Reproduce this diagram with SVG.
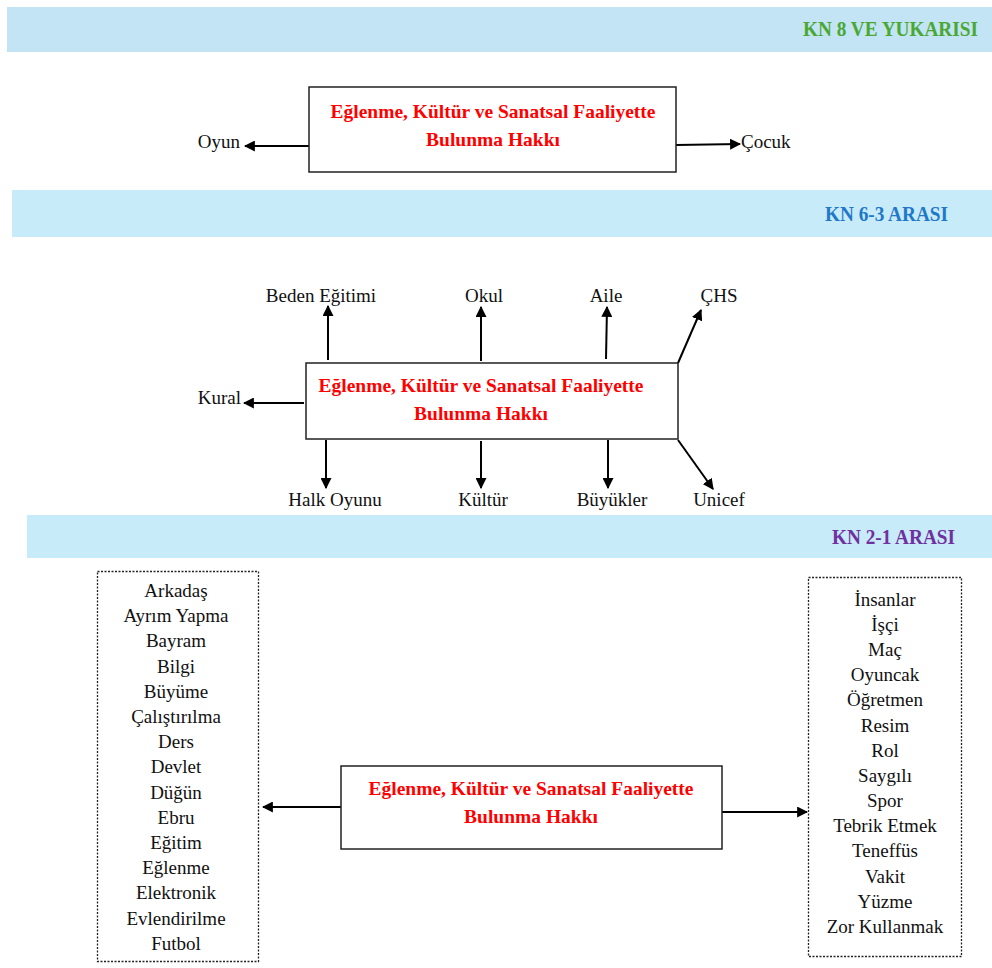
<svg xmlns="http://www.w3.org/2000/svg" width="992" height="968" viewBox="0 0 992 968">
<style>
.band{fill:#c8ebfa}
.hdr{font-family:'Liberation Serif','Times New Roman',serif;font-weight:bold;font-size:21px;text-anchor:end}
.box{fill:#fff;stroke:#222;stroke-width:1.5}
.dbox{fill:#fff;stroke:#222;stroke-width:1.3;stroke-dasharray:2 1.5}
.title{font-family:'Liberation Serif','Times New Roman',serif;font-weight:bold;font-size:19.5px;fill:#ff0000;text-anchor:middle}
.lbl{font-family:'Liberation Serif','Times New Roman',serif;font-size:19px;fill:#111}
.mid{text-anchor:middle}
.end{text-anchor:end}
.ln{stroke:#000;stroke-width:2;fill:none;marker-end:url(#ah)}
</style>
<defs>
<marker id="ah" viewBox="0 0 10 10" refX="9" refY="5" markerWidth="5.5" markerHeight="5.5" orient="auto" markerUnits="strokeWidth">
<path d="M0,0 L10,5 L0,10 Z" fill="#000"/>
</marker>
</defs>
<rect width="992" height="968" fill="#fff"/>
<g id="band1"><rect x="7" y="7" width="985" height="45" fill="#c2e4f4"/><text class="hdr" x="978" y="36" fill="#4aa832" textLength="175" lengthAdjust="spacingAndGlyphs">KN 8 VE YUKARISI</text></g>
<g id="band2"><rect class="band" x="12" y="190" width="980" height="47"/><text class="hdr" x="948" y="221" fill="#1f78c8" textLength="123" lengthAdjust="spacingAndGlyphs">KN 6-3 ARASI</text></g>
<g id="band3"><rect class="band" x="27" y="515" width="965" height="43"/><text class="hdr" x="955" y="544" fill="#7030a0" textLength="123" lengthAdjust="spacingAndGlyphs">KN 2-1 ARASI</text></g>

<g id="connectors">
<line class="ln" x1="309" y1="146" x2="245" y2="146"/>
<line class="ln" x1="676" y1="145" x2="740" y2="144"/>
<line class="ln" x1="328" y1="360" x2="328" y2="306"/>
<line class="ln" x1="481" y1="361" x2="481" y2="307"/>
<line class="ln" x1="606" y1="359" x2="607" y2="307"/>
<line class="ln" x1="678" y1="363" x2="701" y2="310"/>
<line class="ln" x1="304" y1="403" x2="244" y2="403"/>
<line class="ln" x1="326" y1="440" x2="326" y2="488"/>
<line class="ln" x1="481" y1="441" x2="481" y2="488"/>
<line class="ln" x1="608" y1="440" x2="608" y2="488"/>
<line class="ln" x1="678" y1="440" x2="713" y2="489"/>
<line class="ln" x1="341" y1="807" x2="263" y2="807"/>
<line class="ln" x1="722" y1="812" x2="807" y2="812"/>
</g>

<g id="node1">
<rect class="box" x="309" y="87" width="367" height="85"/>
<text class="title" x="493" y="118" textLength="325" lengthAdjust="spacingAndGlyphs">Eğlenme, Kültür ve Sanatsal Faaliyette</text>
<text class="title" x="493" y="146">Bulunma Hakkı</text>
</g>
<g id="n-oyun"><text class="lbl end" x="240" y="148">Oyun</text></g>
<g id="n-cocuk"><text class="lbl" x="741" y="148">Çocuk</text></g>

<g id="node2">
<rect class="box" x="306" y="363" width="372" height="76"/>
<text class="title" x="481" y="392" textLength="325" lengthAdjust="spacingAndGlyphs">Eğlenme, Kültür ve Sanatsal Faaliyette</text>
<text class="title" x="481" y="420">Bulunma Hakkı</text>
</g>
<g id="n-beden"><text class="lbl mid" x="321" y="302">Beden Eğitimi</text></g>
<g id="n-okul"><text class="lbl mid" x="484" y="302">Okul</text></g>
<g id="n-aile"><text class="lbl mid" x="606" y="302">Aile</text></g>
<g id="n-chs"><text class="lbl mid" x="719" y="302">ÇHS</text></g>
<g id="n-kural"><text class="lbl end" x="241" y="404">Kural</text></g>
<g id="n-halk"><text class="lbl mid" x="335" y="506">Halk Oyunu</text></g>
<g id="n-kultur"><text class="lbl mid" x="483" y="506">Kültür</text></g>
<g id="n-buyukler"><text class="lbl mid" x="612" y="506">Büyükler</text></g>
<g id="n-unicef"><text class="lbl mid" x="719" y="506">Unicef</text></g>

<g id="node3">
<rect class="box" x="341" y="766" width="381" height="83"/>
<text class="title" x="531" y="795" textLength="325" lengthAdjust="spacingAndGlyphs">Eğlenme, Kültür ve Sanatsal Faaliyette</text>
<text class="title" x="531" y="823">Bulunma Hakkı</text>
</g>

<g id="list-left">
<rect class="dbox" x="97.5" y="571.5" width="161" height="390"/>
<text class="lbl mid" x="176" y="597">Arkadaş</text>
<text class="lbl mid" x="176" y="622">Ayrım Yapma</text>
<text class="lbl mid" x="176" y="647">Bayram</text>
<text class="lbl mid" x="176" y="673">Bilgi</text>
<text class="lbl mid" x="176" y="698">Büyüme</text>
<text class="lbl mid" x="176" y="723">Çalıştırılma</text>
<text class="lbl mid" x="176" y="748">Ders</text>
<text class="lbl mid" x="176" y="773">Devlet</text>
<text class="lbl mid" x="176" y="799">Düğün</text>
<text class="lbl mid" x="176" y="824">Ebru</text>
<text class="lbl mid" x="176" y="849">Eğitim</text>
<text class="lbl mid" x="176" y="874">Eğlenme</text>
<text class="lbl mid" x="176" y="899">Elektronik</text>
<text class="lbl mid" x="176" y="925">Evlendirilme</text>
<text class="lbl mid" x="176" y="950">Futbol</text>
</g>

<g id="list-right">
<rect class="dbox" x="808.5" y="577.5" width="153" height="379"/>
<text class="lbl mid" x="885" y="606">İnsanlar</text>
<text class="lbl mid" x="885" y="631">İşçi</text>
<text class="lbl mid" x="885" y="656">Maç</text>
<text class="lbl mid" x="885" y="681">Oyuncak</text>
<text class="lbl mid" x="885" y="706">Öğretmen</text>
<text class="lbl mid" x="885" y="732">Resim</text>
<text class="lbl mid" x="885" y="757">Rol</text>
<text class="lbl mid" x="885" y="782">Saygılı</text>
<text class="lbl mid" x="885" y="807">Spor</text>
<text class="lbl mid" x="885" y="832">Tebrik Etmek</text>
<text class="lbl mid" x="885" y="857">Teneffüs</text>
<text class="lbl mid" x="885" y="883">Vakit</text>
<text class="lbl mid" x="885" y="908">Yüzme</text>
<text class="lbl mid" x="885" y="933">Zor Kullanmak</text>
</g>
</svg>
